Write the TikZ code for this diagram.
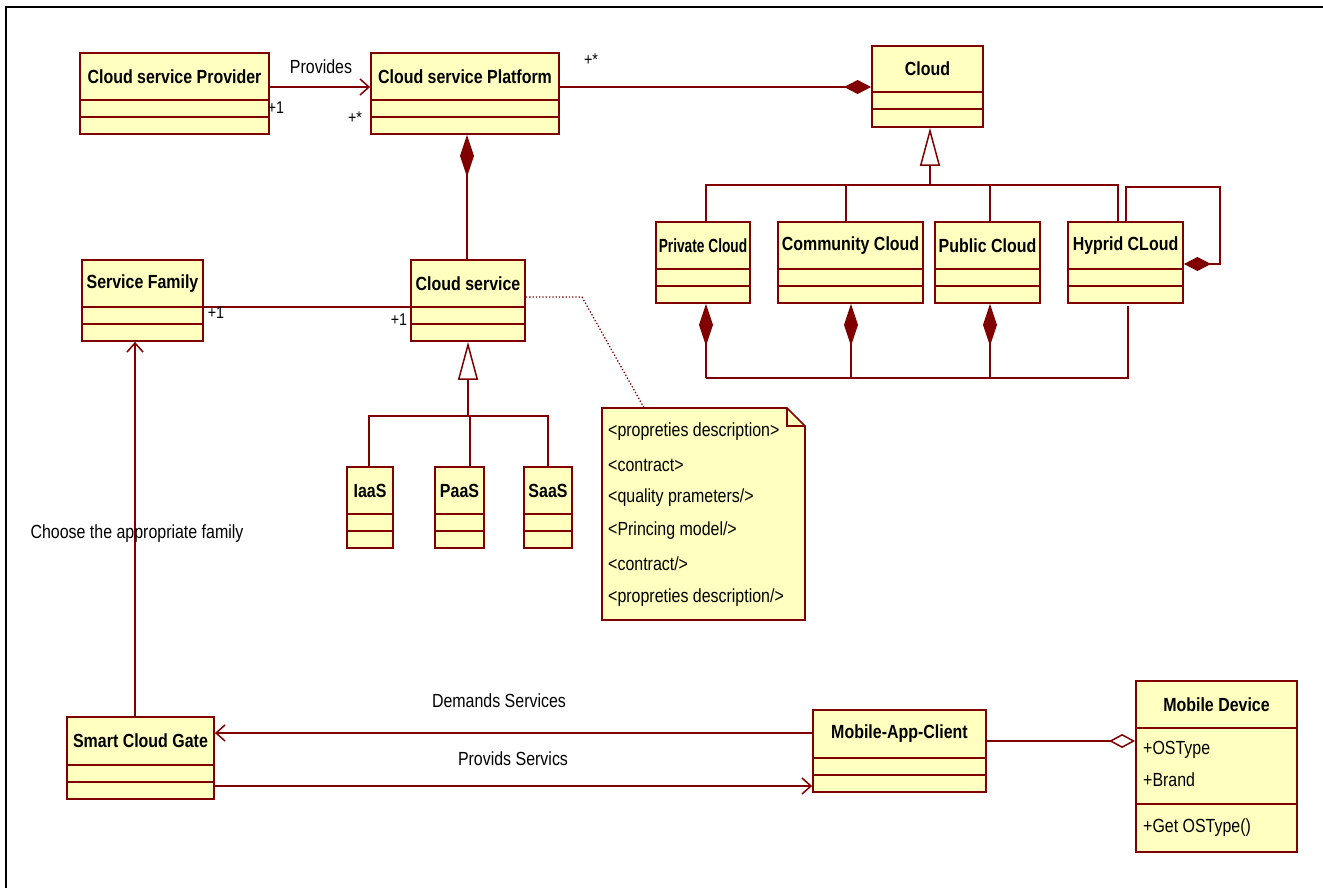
\documentclass[tikz,border=0pt]{standalone}
\usepackage{fontspec}
\setmainfont{Liberation Sans}[FakeStretch=0.84]
\usetikzlibrary{arrows.meta}
\definecolor{umlred}{HTML}{800000}
\definecolor{umlfill}{HTML}{FFFFC0}
\tikzset{
  classbox/.style={draw=umlred, fill=umlfill, line width=1.8pt, inner sep=0pt, rectangle},
  classtitle/.style={font=\fontsize{19}{21}\selectfont\bfseries, inner sep=0pt, text=black},
  lbl/.style={font=\fontsize{19}{21}\selectfont, inner sep=0pt, text=black},
  mult/.style={font=\fontsize{17}{19}\selectfont, inner sep=0pt, text=black},
  umlline/.style={draw=umlred, line width=1.6pt},
  openarrow/.style={umlline, -{Straight Barb[length=9pt,width=16pt,line width=1.5pt]}},
  compend/.style={umlline, -{Diamond[length=27pt,width=14pt,fill=umlred]}},
  compstartv/.style={umlline, {Diamond[length=42pt,width=14pt,fill=umlred]}-},
  aggend/.style={umlline, -{Diamond[length=26pt,width=14pt,fill=white,line width=1.5pt]}},
  genstart/.style={umlline, {Triangle[length=38pt,width=20pt,fill=white,line width=1.5pt]}-},
  notedots/.style={draw=umlred, line width=1.3pt, dotted},
}
\newcommand\umlclass[8]{%
  \node[classbox, minimum width={#4-#2}, minimum height={#5-#3}] (#1) at ({(#2+#4)/2},{(#3+#5)/2}) {};
  \draw[umlred, line width=1.6pt] (#2,#6) -- (#4,#6) (#2,#7) -- (#4,#7);
  \node[classtitle] (#1-t) at ({(#2+#4)/2},{(#3+#6)/2}) {#8};
}
\begin{document}
\begin{tikzpicture}[x=1pt,y=-1pt]
\useasboundingbox[fill=white] (0,0) rectangle (1323,888);
\draw[line width=2.5pt] (6,888) -- (6,7) -- (1323,7);

% classes
\umlclass{prov}{80}{53}{269}{134}{100}{117}{Cloud service Provider}
\umlclass{plat}{371}{53}{559}{134}{100}{117}{Cloud service Platform}
\umlclass{cloud}{872}{46}{983}{127}{92}{109}{Cloud}
\umlclass{priv}{656}{222}{750}{303}{269}{286}{\scalebox{0.86}[1]{Private Cloud}}
\umlclass{comm}{778}{222}{923}{303}{269}{286}{Community Cloud}
\umlclass{pub}{935}{222}{1040}{303}{269}{286}{Public Cloud}
\umlclass{hyb}{1068}{222}{1183}{303}{269}{286}{Hyprid CLoud}
\umlclass{sf}{82}{260}{203}{341}{307}{324}{Service Family}
\umlclass{cs}{411}{260}{525}{341}{307}{324}{Cloud service}
\umlclass{iaas}{347}{467}{393}{548}{514}{531}{IaaS}
\umlclass{paas}{435}{467}{484}{548}{514}{531}{PaaS}
\umlclass{saas}{524}{467}{572}{548}{514}{531}{SaaS}
\umlclass{gate}{67}{717}{214}{799}{765}{782}{Smart Cloud Gate}
\umlclass{mac}{813}{710}{986}{792}{758}{775}{Mobile-App-Client}

% Mobile Device (two compartments)
\node[classbox, minimum width=161, minimum height=171] (md) at (1216.5,766.5) {};
\draw[umlred, line width=1.6pt] (1136,728) -- (1297,728) (1136,804) -- (1297,804);
\node[classtitle] (md-t) at (1216.5,704.5) {Mobile Device};
\node[lbl, anchor=west] (md-a1) at (1143,750) {+OSType};
\node[lbl, anchor=west] (md-a2) at (1143,780) {+Brand};
\node[lbl, anchor=west] (md-m1) at (1143,828) {+Get OSType()};

% note
\node[inner sep=0pt, minimum width=203, minimum height=212] (note) at (703.5,514) {};
\draw[umlred, line width=1.6pt, fill=umlfill] (602,408) -- (787,408) -- (805,426) -- (805,620) -- (602,620) -- cycle;
\draw[umlred, line width=1.4pt] (787,408) -- (787,426) -- (805,426);
\node[lbl, anchor=west] (n1) at (608,432) {<propreties description>};
\node[lbl, anchor=west] (n2) at (608,465) {<contract>};
\node[lbl, anchor=west] (n3) at (608,498) {<quality prameters/>};
\node[lbl, anchor=west] (n4) at (608,531) {<Princing model/>};
\node[lbl, anchor=west] (n5) at (608,564) {<contract/>};
\node[lbl, anchor=west] (n6) at (608,598) {<propreties description/>};
\draw[notedots] (cs.east |- 0,297) -- (582,297) -- (644,0 |- note.north);

% Provider -> Platform
\draw[openarrow] (prov.east |- 0,87) -- (plat.west |- 0,87);
\node[lbl] (l-prov) at (321,67) {Provides};
\node[mult] (m1) at (276,108) {+1};
\node[mult] (m2) at (355,118) {+*};

% Platform -- Cloud (composition)
\draw[compend] (plat.east |- 0,87) -- (cloud.west |- 0,87);
\node[mult] (m3) at (591,60) {+*};

% Platform <>-- Cloud service
\draw[compstartv] (467,0 |- plat.south) -- (467,0 |- cs.north);

% Cloud generalization
\coordinate (gj) at (930,185);
\draw[genstart] (930,0 |- cloud.south) -- (gj);
\draw[umlline] (706,0 |- priv.north) -- (706,185) -- (1118,185) -- (1118,0 |- hyb.north);
\draw[umlline] (846,0 |- comm.north) -- (846,185);
\draw[umlline] (990,0 |- pub.north) -- (990,185);

% Hybrid self composition
\draw[compend] (1126,0 |- hyb.north) -- (1126,187) -- (1220,187) -- (1220,264) -- (hyb.east |- 0,264);

% bottom compositions
\draw[compstartv] (706,0 |- priv.south) -- (706,378);
\draw[compstartv] (851,0 |- comm.south) -- (851,378);
\draw[compstartv] (990,0 |- pub.south) -- (990,378);
\draw[umlline] (706,378) -- (1128,378) -- (1128,306);

% Service Family -- Cloud service
\draw[umlline] (sf.east |- 0,307) -- (cs.west |- 0,307);
\node[mult] (m4) at (216,313) {+1};
\node[mult] (m5) at (399,320) {+1};

% Cloud service generalization
\draw[genstart] (468,0 |- cs.south) -- (468,416);
\draw[umlline] (369,0 |- iaas.north) -- (369,416) -- (548,416) -- (548,0 |- saas.north);
\draw[umlline] (470,0 |- paas.north) -- (470,416);

% Gate -> Service Family
\draw[openarrow] (135,0 |- gate.north) -- (135,0 |- sf.south);
\node[lbl] (l-choose) at (137,534) {Choose the appropriate family};

% Demands / Provids
\draw[openarrow] (mac.west |- 0,733) -- (gate.east |- 0,733);
\node[lbl] (l-dem) at (499,701) {Demands Services};
\draw[openarrow] (gate.east |- 0,786) -- (mac.west |- 0,786);
\node[lbl] (l-provs) at (513,759) {Provids Servics};

% Mobile-App-Client -- Mobile Device (aggregation)
\draw[aggend] (mac.east |- 0,741) -- (md.west |- 0,741);
\end{tikzpicture}
\end{document}
